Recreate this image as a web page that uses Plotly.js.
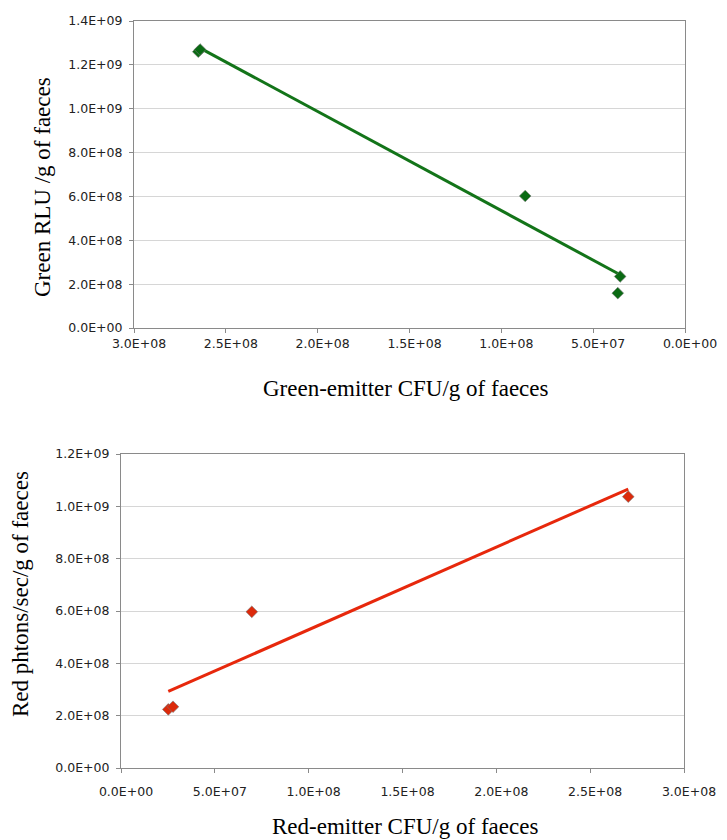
<!DOCTYPE html>
<html>
<head>
<meta charset="utf-8">
<script src="https://cdn.plot.ly/plotly-3.0.1.min.js"></script>
<style>html,body{margin:0;padding:0;background:#fff;}#chart{width:727px;height:840px;}</style>
</head>
<body>
<div id="chart"></div>
<script>
// ---- Data ----
const greenCFU = [2.65e8, 2.64e8, 8.70e7, 3.53e7, 3.66e7];
const greenRLU = [1.26e9, 1.27e9, 6.02e8, 2.35e8, 1.59e8];

const redCFU = [2.52e7, 2.77e7, 6.97e7, 2.703e8];
const redPhotons = [2.24e8, 2.34e8, 5.97e8, 1.037e9];

const greenYTickVals = [0, 2e8, 4e8, 6e8, 8e8, 1e9, 1.2e9, 1.4e9];
const greenYTickText = ['0.0E+00','2.0E+08','4.0E+08','6.0E+08','8.0E+08','1.0E+09','1.2E+09','1.4E+09'];
const greenXTickVals = [3e8, 2.5e8, 2e8, 1.5e8, 1e8, 5e7, 0];
const greenXTickText = ['3.0E+08','2.5E+08','2.0E+08','1.5E+08','1.0E+08','5.0E+07','0.0E+00'];

const redYTickVals = [0, 2e8, 4e8, 6e8, 8e8, 1e9, 1.2e9];
const redYTickText = ['0.0E+00','2.0E+08','4.0E+08','6.0E+08','8.0E+08','1.0E+09','1.2E+09'];
const redXTickVals = [0, 5e7, 1e8, 1.5e8, 2e8, 2.5e8, 3e8];
const redXTickText = ['0.0E+00','5.0E+07','1.0E+08','1.5E+08','2.0E+08','2.5E+08','3.0E+08'];

const titles = {
  greenX: 'Green-emitter CFU/g of faeces',
  greenY: 'Green RLU /g of faeces',
  redX: 'Red-emitter CFU/g of faeces',
  redY: 'Red phtons/sec/g of faeces'
};

// least-squares linear trendline over the data range
function trend(xs, ys) {
  const n = xs.length;
  const mx = xs.reduce((a, b) => a + b, 0) / n;
  const my = ys.reduce((a, b) => a + b, 0) / n;
  let sxx = 0, sxy = 0;
  for (let i = 0; i < n; i++) { sxx += (xs[i]-mx)*(xs[i]-mx); sxy += (xs[i]-mx)*(ys[i]-my); }
  const b = sxy / sxx, a = my - b * mx;
  const x0 = Math.min(...xs), x1 = Math.max(...xs);
  return {x: [x0, x1], y: [a + b*x0, a + b*x1]};
}

const gT = trend(greenCFU, greenRLU);
const rT = trend(redCFU, redPhotons);

const GREEN_LINE = '#137419', GREEN_MK = '#0a6a13';
const RED_LINE = '#e7280c', RED_MK = '#dc2a0b';

const traces = [
  {x: gT.x, y: gT.y, mode: 'lines', line: {color: GREEN_LINE, width: 3}, xaxis: 'x', yaxis: 'y', hoverinfo: 'skip'},
  {x: greenCFU, y: greenRLU, mode: 'markers', marker: {symbol: 'diamond', size: 9, color: GREEN_MK, line: {width: 1, color: 'rgba(120,120,120,0.6)'}}, xaxis: 'x', yaxis: 'y'},
  {x: rT.x, y: rT.y, mode: 'lines', line: {color: RED_LINE, width: 3}, xaxis: 'x2', yaxis: 'y2', hoverinfo: 'skip'},
  {x: redCFU, y: redPhotons, mode: 'markers', marker: {symbol: 'diamond', size: 9, color: RED_MK, line: {width: 1, color: 'rgba(120,120,120,0.6)'}}, xaxis: 'x2', yaxis: 'y2'}
];

const W = 727, H = 840;
const tickFont = {family: 'DejaVu Sans', size: 12.5, color: '#222'};
const axisCommon = {
  showline: true, linecolor: '#8a8a8a', linewidth: 1, mirror: true,
  ticks: 'outside', ticklen: 4, tickcolor: '#8a8a8a', tickfont: tickFont,
  zeroline: false, tickmode: 'array', fixedrange: true
};

const layout = {
  width: W, height: H,
  margin: {l: 0, r: 0, t: 0, b: 0},
  paper_bgcolor: '#fff', plot_bgcolor: '#fff',
  showlegend: false,
  xaxis: Object.assign({}, axisCommon, {
    domain: [134/W, 685/W], anchor: 'y', range: [3e8, 0],
    tickvals: greenXTickVals, ticktext: greenXTickText, showgrid: false,
    ticklabelshift: -5
  }),
  yaxis: Object.assign({}, axisCommon, {
    domain: [(H-328)/H, (H-21)/H], anchor: 'x', range: [0, 1.4e9],
    tickvals: greenYTickVals, ticktext: greenYTickText, showgrid: true, gridcolor: '#d6d6d6',
    ticklabelstandoff: 4
  }),
  xaxis2: Object.assign({}, axisCommon, {
    domain: [121/W, 684/W], anchor: 'y2', range: [0, 3e8],
    tickvals: redXTickVals, ticktext: redXTickText, showgrid: false,
    ticklabelshift: 5, ticklabelstandoff: 8
  }),
  yaxis2: Object.assign({}, axisCommon, {
    domain: [(H-768)/H, (H-454)/H], anchor: 'x2', range: [0, 1.2e9],
    tickvals: redYTickVals, ticktext: redYTickText, showgrid: true, gridcolor: '#d6d6d6',
    ticklabelstandoff: 4
  }),
  annotations: [
    {text: titles.greenX, xref: 'paper', yref: 'paper', x: 406/W, y: (H-388)/H, showarrow: false,
     font: {family: 'Liberation Serif', size: 23, color: '#000'}, xanchor: 'center', yanchor: 'middle'},
    {text: titles.greenY, xref: 'paper', yref: 'paper', x: 42/W, y: (H-187)/H, showarrow: false, textangle: -90,
     font: {family: 'Liberation Serif', size: 23, color: '#000'}, xanchor: 'center', yanchor: 'middle'},
    {text: titles.redX, xref: 'paper', yref: 'paper', x: 405/W, y: (H-826)/H, showarrow: false,
     font: {family: 'Liberation Serif', size: 23, color: '#000'}, xanchor: 'center', yanchor: 'middle'},
    {text: titles.redY, xref: 'paper', yref: 'paper', x: 21/W, y: (H-594)/H, showarrow: false, textangle: -90,
     font: {family: 'Liberation Serif', size: 23, color: '#000'}, xanchor: 'center', yanchor: 'middle'}
  ]
};

Plotly.newPlot('chart', traces, layout, {displayModeBar: false, staticPlot: true});
</script>
</body>
</html>
